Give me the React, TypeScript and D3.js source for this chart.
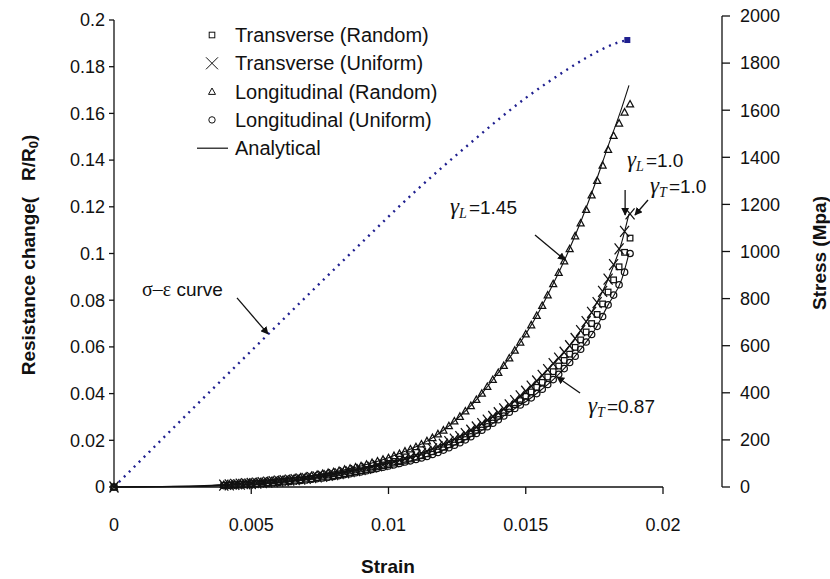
import React from 'react'
import * as d3 from 'd3'

const W = 830,
	H = 579

// sigma-epsilon curve (right axis, MPa)
const sigStrain = [0, 0.001, 0.002, 0.003, 0.004, 0.005, 0.006, 0.007, 0.008, 0.009, 0.01, 0.011, 0.012, 0.013, 0.014, 0.015, 0.0158, 0.0165, 0.0172, 0.0178, 0.0183, 0.0187]
const sigStress = [0, 116, 232, 348, 463, 578, 693, 808, 922, 1035, 1148, 1258, 1362, 1462, 1560, 1652, 1718, 1772, 1822, 1860, 1885, 1898]

// analytical curves (left axis)
const anaStrain = [0, 0.003, 0.004, 0.005, 0.006, 0.007, 0.008, 0.009, 0.01, 0.0105, 0.011, 0.0115, 0.012, 0.0125, 0.013, 0.0135, 0.014, 0.0145, 0.015, 0.0155, 0.016, 0.0165, 0.017, 0.0175, 0.018, 0.0185, 0.01876]
const anaHigh = [0, 0.0005, 0.001, 0.002, 0.003, 0.0045, 0.0065, 0.009, 0.0125, 0.0148, 0.0172, 0.0203, 0.0243, 0.0292, 0.0348, 0.0415, 0.049, 0.0568, 0.0655, 0.0755, 0.087, 0.0995, 0.1135, 0.129, 0.146, 0.1625, 0.172]
const anaMid = [0, 0.0003, 0.0008, 0.0015, 0.0025, 0.0037, 0.0053, 0.0075, 0.0102, 0.0118, 0.0135, 0.0158, 0.0183, 0.021, 0.0243, 0.0278, 0.0318, 0.036, 0.041, 0.0465, 0.0528, 0.059, 0.067, 0.077, 0.089, 0.105, 0.117]
const anaLow = [0, 0.0002, 0.0006, 0.0012, 0.002, 0.003, 0.0045, 0.0065, 0.009, 0.0104, 0.0118, 0.0135, 0.0158, 0.0185, 0.0215, 0.025, 0.0288, 0.0328, 0.0365, 0.041, 0.046, 0.052, 0.059, 0.067, 0.078, 0.089, 0.1]

// measured strain points shared by the four experimental series
const strainPts = [0, 0.004, 0.0042, 0.0044, 0.0046, 0.0048, 0.005, 0.0052, 0.0054, 0.0056, 0.0058, 0.006, 0.0062, 0.0064, 0.0066, 0.0068, 0.007, 0.0072, 0.0074, 0.0076, 0.0078, 0.008, 0.0082, 0.0084, 0.0086, 0.0088, 0.009, 0.0092, 0.0094, 0.0096, 0.0098, 0.01, 0.0102, 0.0104, 0.0106, 0.0108, 0.011, 0.0112, 0.0114, 0.0116, 0.0118, 0.012, 0.0122, 0.0124, 0.0126, 0.0128, 0.013, 0.0132, 0.0134, 0.0136, 0.0138, 0.014, 0.0142, 0.0144, 0.0146, 0.0148, 0.015, 0.0152, 0.0154, 0.0156, 0.0158, 0.016, 0.0162, 0.0164, 0.0166, 0.0168, 0.017, 0.0172, 0.0174, 0.0176, 0.0178, 0.018, 0.0182, 0.0184, 0.0186, 0.0188]

// Longitudinal (Random) - triangles
const triR = [0, 0.001, 0.0012, 0.0013, 0.0016, 0.0017, 0.002, 0.0022, 0.0023, 0.0026, 0.0028, 0.003, 0.0033, 0.0035, 0.0039, 0.0042, 0.0045, 0.0049, 0.0053, 0.0057, 0.0061, 0.0065, 0.007, 0.0075, 0.008, 0.0085, 0.009, 0.0097, 0.0104, 0.0111, 0.0118, 0.0125, 0.0134, 0.0143, 0.0153, 0.0162, 0.0172, 0.0184, 0.0197, 0.0211, 0.0227, 0.0243, 0.0262, 0.0282, 0.0302, 0.0325, 0.0348, 0.0374, 0.0401, 0.043, 0.046, 0.049, 0.052, 0.0552, 0.0585, 0.062, 0.0655, 0.0694, 0.0734, 0.0777, 0.0822, 0.087, 0.0918, 0.0968, 0.102, 0.1075, 0.113, 0.1188, 0.125, 0.1312, 0.1378, 0.1445, 0.1505, 0.1558, 0.1605, 0.164]

// Transverse (Uniform) - crosses
const crossR = [0, 0.0008, 0.0009, 0.0011, 0.0012, 0.0014, 0.0015, 0.0017, 0.0019, 0.0021, 0.0023, 0.0025, 0.0027, 0.0029, 0.0032, 0.0034, 0.0037, 0.004, 0.0043, 0.0046, 0.005, 0.0053, 0.0057, 0.0061, 0.0066, 0.007, 0.0075, 0.008, 0.0085, 0.0091, 0.0096, 0.0102, 0.0108, 0.0115, 0.0121, 0.0128, 0.0135, 0.0144, 0.0153, 0.0163, 0.0173, 0.0183, 0.0194, 0.0205, 0.0216, 0.0229, 0.0243, 0.0257, 0.0271, 0.0286, 0.0302, 0.0318, 0.0335, 0.0352, 0.037, 0.039, 0.041, 0.0432, 0.0454, 0.0478, 0.0503, 0.0528, 0.0552, 0.0577, 0.0605, 0.0636, 0.067, 0.0708, 0.0748, 0.079, 0.0838, 0.089, 0.0952, 0.102, 0.1095, 0.117]

// Transverse (Random) - squares
const sqR = [0, 0.0007, 0.0008, 0.001, 0.0011, 0.0012, 0.0014, 0.0015, 0.0017, 0.0018, 0.002, 0.0023, 0.0025, 0.0027, 0.0029, 0.0031, 0.0034, 0.0036, 0.004, 0.0043, 0.0046, 0.0049, 0.0053, 0.0057, 0.0062, 0.0066, 0.007, 0.0075, 0.008, 0.0086, 0.0091, 0.0096, 0.0102, 0.0108, 0.0114, 0.012, 0.0127, 0.0134, 0.0142, 0.0151, 0.016, 0.017, 0.0181, 0.0192, 0.0203, 0.0215, 0.0229, 0.0243, 0.0257, 0.0272, 0.0287, 0.0303, 0.0319, 0.0336, 0.0353, 0.037, 0.0388, 0.0407, 0.0427, 0.0448, 0.0471, 0.0494, 0.0518, 0.0542, 0.0569, 0.0598, 0.063, 0.0664, 0.07, 0.0739, 0.0784, 0.0835, 0.0887, 0.0943, 0.1005, 0.1066]

// Longitudinal (Uniform) - circles
const circR = [0, 0.0006, 0.0007, 0.0008, 0.0009, 0.0011, 0.0012, 0.0013, 0.0015, 0.0016, 0.0018, 0.002, 0.0022, 0.0024, 0.0026, 0.0028, 0.003, 0.0033, 0.0036, 0.0039, 0.0042, 0.0045, 0.0049, 0.0053, 0.0057, 0.0061, 0.0065, 0.007, 0.0075, 0.008, 0.0085, 0.009, 0.0095, 0.0101, 0.0107, 0.0112, 0.0118, 0.0124, 0.0131, 0.0139, 0.0148, 0.0158, 0.0168, 0.0179, 0.019, 0.0202, 0.0215, 0.0229, 0.0243, 0.0258, 0.0273, 0.0288, 0.0304, 0.032, 0.0336, 0.0351, 0.0365, 0.0382, 0.04, 0.0419, 0.0439, 0.046, 0.0483, 0.0507, 0.0533, 0.056, 0.059, 0.0621, 0.0653, 0.0688, 0.073, 0.078, 0.0822, 0.0866, 0.092, 0.1]

const xTicks = [0, 0.005, 0.01, 0.015, 0.02]
const xTickLabels = ['0', '0.005', '0.01', '0.015', '0.02']
const yLeftTicks = [0, 0.02, 0.04, 0.06, 0.08, 0.1, 0.12, 0.14, 0.16, 0.18, 0.2]
const yLeftLabels = ['0', '0.02', '0.04', '0.06', '0.08', '0.1', '0.12', '0.14', '0.16', '0.18', '0.2']
const yRightTicks = [0, 200, 400, 600, 800, 1000, 1200, 1400, 1600, 1800, 2000]
const yRightLabels = ['0', '200', '400', '600', '800', '1000', '1200', '1400', '1600', '1800', '2000']

const legendItems = ['Transverse (Random)', 'Transverse (Uniform)', 'Longitudinal (Random)', 'Longitudinal (Uniform)', 'Analytical']

const sans = "'Liberation Sans', Arial, Helvetica, sans-serif"
const serif = "'Liberation Serif', 'Times New Roman', serif"

const Marker = ({ kind, cx, cy, legend }: { kind: string; cx: number; cy: number; legend?: boolean }) => {
	const sw = legend ? 1 : 1.25
	if (kind === 'square') return <rect x={cx - 2.8} y={cy - 2.8} width={5.6} height={5.6} fill="none" stroke="#111" strokeWidth={sw} />
	if (kind === 'cross')
		return <path d={`M${cx - 4.5},${cy - 5.5}L${cx + 4.5},${cy + 5.5}M${cx - 4.5},${cy + 5.5}L${cx + 4.5},${cy - 5.5}`} stroke="#111" strokeWidth={sw} />
	if (kind === 'tri') return <path d={`M${cx},${cy - 3.6}L${cx + 3.5},${cy + 2.8}L${cx - 3.5},${cy + 2.8}Z`} fill="none" stroke="#111" strokeWidth={sw} />
	return <circle cx={cx} cy={cy} r={3.2} fill="none" stroke="#111" strokeWidth={sw} />
}

const Gamma = ({ x, y, sub, val }: { x: number; y: number; sub: string; val: string }) => (
	<text x={x} y={y} fill="#111">
		<tspan fontFamily={serif} fontStyle="italic" fontSize={23}>γ</tspan>
		<tspan fontFamily={serif} fontStyle="italic" fontSize={14} dy={4}>{sub}</tspan>
		<tspan fontFamily={sans} fontSize={19} dy={-4} dx={2}>{val}</tspan>
	</text>
)

const App = () => {
	const x = d3.scaleLinear().domain([0, 0.02]).range([114, 663])
	const yL = d3.scaleLinear().domain([0, 0.2]).range([487, 20])
	const yR = d3.scaleLinear().domain([0, 2000]).range([487, 16])

	const lineL = d3
		.line<[number, number]>()
		.x((d) => x(d[0]))
		.y((d) => yL(d[1]))
		.curve(d3.curveMonotoneX)
	const lineR = d3
		.line<[number, number]>()
		.x((d) => x(d[0]))
		.y((d) => yR(d[1]))
		.curve(d3.curveMonotoneX)

	const zip = (a: number[], b: number[]) => a.map((v, i) => [v, b[i]] as [number, number])
	const series = [
		{ kind: 'circle', pts: zip(strainPts, circR) },
		{ kind: 'square', pts: zip(strainPts, sqR) },
		{ kind: 'cross', pts: zip(strainPts, crossR) },
		{ kind: 'tri', pts: zip(strainPts, triR) },
	]
	const sigPts = zip(sigStrain, sigStress)
	const sigEnd = sigPts[sigPts.length - 1]

	const arrow = (x1: number, y1: number, x2: number, y2: number, key: string) => (
		<line key={key} x1={x1} y1={y1} x2={x2} y2={y2} stroke="#111" strokeWidth={1.3} markerEnd="url(#ah)" />
	)

	// annotation tips in data coordinates
	const tipSig = [x(0.00561), yR(650)]
	const tipL145 = [x(0.01643), yL(0.0972)]
	const tipL1 = [x(0.01862), yL(0.1165)]
	const tipT1 = [x(0.01898), yL(0.1165)]
	const tipT087 = [x(0.01614), yL(0.0471)]

	return (
		<svg width={W} height={H} style={{ position: 'absolute', left: 0, top: 0, background: 'white' }}>
			<defs>
				<marker id="ah" viewBox="0 0 10 10" refX={9} refY={5} markerWidth={6} markerHeight={6} orient="auto">
					<path d="M0,0L10,5L0,10Z" fill="#111" />
				</marker>
			</defs>

			{/* axes */}
			<g stroke="#111" strokeWidth={1.3} fill="none">
				<line x1={x(0)} y1={yL(0.2)} x2={x(0)} y2={yL(0)} />
				<line x1={x(0)} y1={yL(0)} x2={x(0.02)} y2={yL(0)} />
				<line x1={722} y1={yR(2000)} x2={722} y2={yR(0)} />
				{yLeftTicks.map((t) => (
					<line key={'yl' + t} x1={x(0) - 5} x2={x(0)} y1={yL(t)} y2={yL(t)} />
				))}
				{xTicks.slice(1).map((t) => (
					<line key={'xt' + t} x1={x(t)} x2={x(t)} y1={yL(0)} y2={yL(0) + 7} />
				))}
				{yRightTicks.map((t) => (
					<line key={'yr' + t} x1={722} x2={730} y1={yR(t)} y2={yR(t)} />
				))}
			</g>
			<g fontFamily={sans} fontSize={18} fill="#111">
				{yLeftTicks.map((t, i) => (
					<text key={'yll' + t} x={x(0) - 9} y={yL(t)} dy="0.35em" textAnchor="end">
						{yLeftLabels[i]}
					</text>
				))}
				{xTicks.map((t, i) => (
					<text key={'xl' + t} x={x(t)} y={yL(0) + 44} textAnchor="middle">
						{xTickLabels[i]}
					</text>
				))}
				{yRightTicks.map((t, i) => (
					<text key={'yrl' + t} x={740} y={yR(t)} dy="0.35em">
						{yRightLabels[i]}
					</text>
				))}
			</g>
			<g fontFamily={sans} fontSize={19} fontWeight="bold" fill="#111">
				<text x={388} y={573} textAnchor="middle">
					Strain
				</text>
				<text transform="translate(35,255) rotate(-90)" textAnchor="middle">
					{'Resistance change(\u00a0\u00a0\u00a0R/R'}
					<tspan fontSize={13} dy={3}>0</tspan>
					<tspan dy={-3}>)</tspan>
				</text>
				<text transform="translate(826,253) rotate(-90)" textAnchor="middle">
					Stress (Mpa)
				</text>
			</g>

			{/* sigma-epsilon curve */}
			<path d={lineR(sigPts)!} fill="none" stroke="#1f1f8f" strokeWidth={2.4} strokeDasharray="2 5" />
			<rect x={x(sigEnd[0]) - 3} y={yR(sigEnd[1]) - 3} width={6} height={6} fill="#1f1f8f" />

			{/* analytical */}
			<g fill="none" stroke="#111" strokeWidth={1.1}>
				<path d={lineL(zip(anaStrain, anaHigh))!} />
				<path d={lineL(zip(anaStrain, anaMid))!} />
				<path d={lineL(zip(anaStrain, anaLow))!} />
			</g>

			{/* experimental markers */}
			{series.map((s) => (
				<g key={s.kind}>
					{s.pts.map((p, i) => (
						<Marker key={i} kind={s.kind} cx={x(p[0])} cy={yL(p[1])} />
					))}
				</g>
			))}

			{/* legend */}
			<g fontFamily={sans} fontSize={20} fill="#111">
				{legendItems.map((name, i) => {
					const cy = 35 + i * 28.3
					const kinds = ['square', 'cross', 'tri', 'circle']
					return (
						<g key={name}>
							{i < 4 ? (
								i === 1 ? (
									<path d={`M206,${cy - 6}L218,${cy + 6}M206,${cy + 6}L218,${cy - 6}`} stroke="#111" strokeWidth={1} />
								) : (
									<Marker kind={kinds[i]} cx={212} cy={cy} legend />
								)
							) : (
								<line x1={197} x2={228} y1={cy} y2={cy} stroke="#111" strokeWidth={1.2} />
							)}
							<text x={235} y={cy} dy="0.35em">
								{name}
							</text>
						</g>
					)
				})}
			</g>

			{/* annotations */}
			<text x={142} y={296} fontFamily={sans} fontSize={19} fill="#111">
				<tspan fontFamily={serif} fontSize={20}>σ–ε</tspan> curve
			</text>
			{arrow(tipSig[0] - 31, tipSig[1] - 36, tipSig[0], tipSig[1], 'a1')}
			<Gamma x={450} y={214} sub="L" val="=1.45" />
			{arrow(tipL145[0] - 30, tipL145[1] - 25, tipL145[0], tipL145[1], 'a2')}
			<Gamma x={627} y={167} sub="L" val="=1.0" />
			{arrow(tipL1[0], tipL1[1] - 25, tipL1[0], tipL1[1], 'a3')}
			<Gamma x={650} y={193} sub="T" val="=1.0" />
			{arrow(tipT1[0] + 13, tipT1[1] - 15, tipT1[0], tipT1[1], 'a4')}
			<Gamma x={588} y={413} sub="T" val="=0.87" />
			{arrow(tipT087[0] + 23, tipT087[1] + 16, tipT087[0], tipT087[1], 'a5')}
		</svg>
	)
}

export default App
